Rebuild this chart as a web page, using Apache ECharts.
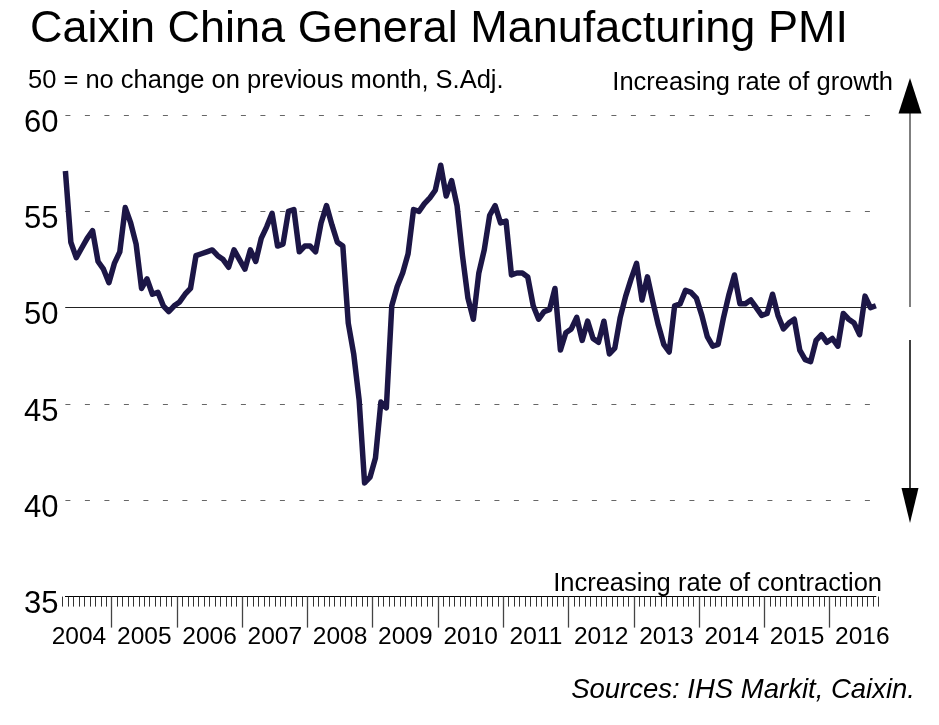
<!DOCTYPE html>
<html><head><meta charset="utf-8">
<script src="https://cdn.jsdelivr.net/npm/echarts@6/dist/echarts.min.js"></script>
<style>html,body{margin:0;padding:0;background:#fff}#c{width:939px;height:725px}</style>
</head><body><div id="c"></div>
<script>
const years = ['2004','2005','2006','2007','2008','2009','2010','2011','2012','2013','2014','2015','2016'];
const firstMonthOf2004 = 4; // series starts April 2004
const pmi2004 = [57.1, 53.4, 52.6, 53.1, 53.6, 54.0, 52.4, 52.0, 51.3];          // Apr-Dec
const pmi2005 = [52.3, 52.9, 55.2, 54.4, 53.3, 51.0, 51.5, 50.7, 50.8, 50.1, 49.8, 50.1];
const pmi2006 = [50.3, 50.7, 51.0, 52.7, 52.8, 52.9, 53.0, 52.7, 52.5, 52.1, 53.0, 52.5];
const pmi2007 = [52.0, 53.0, 52.4, 53.6, 54.2, 54.9, 53.2, 53.3, 55.0, 55.1, 52.9, 53.2];
const pmi2008 = [53.2, 52.9, 54.4, 55.3, 54.3, 53.4, 53.2, 49.2, 47.6, 45.2, 40.9, 41.2];
const pmi2009 = [42.2, 45.1, 44.8, 50.1, 51.1, 51.8, 52.8, 55.1, 55.0, 55.4, 55.7, 56.1];
const pmi2010 = [57.4, 55.8, 56.6, 55.3, 52.7, 50.5, 49.4, 51.8, 53.0, 54.8, 55.3, 54.4];
const pmi2011 = [54.5, 51.7, 51.8, 51.8, 51.6, 50.1, 49.4, 49.8, 49.9, 51.0, 47.8, 48.7];
const pmi2012 = [48.9, 49.5, 48.3, 49.3, 48.4, 48.2, 49.3, 47.6, 47.9, 49.5, 50.6, 51.5];
const pmi2013 = [52.3, 50.4, 51.6, 50.3, 49.1, 48.1, 47.7, 50.1, 50.2, 50.9, 50.8, 50.5];
const pmi2014 = [49.6, 48.5, 48.0, 48.1, 49.5, 50.7, 51.7, 50.2, 50.2, 50.4, 50.0, 49.6];
const pmi2015 = [49.7, 50.7, 49.6, 48.9, 49.2, 49.4, 47.8, 47.3, 47.2, 48.3, 48.6, 48.2];
const pmi2016 = [48.4, 48.0, 49.7, 49.4, 49.2, 48.6, 50.6, 50.0, 50.1];          // Jan-Sep
const yMin = 35, yMax = 60, yStep = 5, noChangeLevel = 50;

const FONT = '"Liberation Sans", Arial, sans-serif';
const yearData = [pmi2004,pmi2005,pmi2006,pmi2007,pmi2008,pmi2009,pmi2010,pmi2011,pmi2012,pmi2013,pmi2014,pmi2015,pmi2016];
const pad = n => (n < 10 ? '0' : '') + n;
const months = [], values = [];
yearData.forEach((arr, yi) => {
  const start = yi === 0 ? firstMonthOf2004 : 1;
  arr.forEach((v, j) => { months.push(years[yi] + '-' + pad(start + j)); values.push(v); });
});
const lastMonth = months[months.length - 1];
let ly = +lastMonth.slice(0, 4), lm = +lastMonth.slice(5) + 1;
if (lm > 12) { lm = 1; ly++; }
const boundaries = months.concat([ly + '-' + pad(lm)]);

function splitColors() {
  const cols = [];
  for (let v = yMin; v <= yMax; v += yStep) cols.push(v === noChangeLevel ? '#222' : 'rgba(0,0,0,0)');
  return cols;
}

const chart = echarts.init(document.getElementById('c'));
const gridTop = 115.1, gridBottom = 725 - 596.6;
const left0 = 65.4, right0 = 939 - 875.9;
const halfStep = (875.9 - 65.4) / (months.length - 1) / 2;

chart.setOption({
  animation: false,
  backgroundColor: '#fff',
  grid: [
    { left: left0, right: right0, top: gridTop, bottom: gridBottom },
    { left: left0 - halfStep, right: right0 - halfStep, top: gridTop, bottom: gridBottom }
  ],
  xAxis: [
    { gridIndex: 0, type: 'category', boundaryGap: false, data: months,
      axisLine: { show: true, lineStyle: { color: '#000', width: 1 } },
      axisTick: { show: false }, axisLabel: { show: false }, splitLine: { show: false } },
    { gridIndex: 1, type: 'category', boundaryGap: false, data: boundaries, position: 'bottom',
      axisLine: { show: false },
      axisTick: { show: true, interval: 0, length: 10, lineStyle: { color: '#333', width: 1 } },
      axisLabel: { show: true, interval: (i, v) => v.slice(5) === '07', formatter: v => v.slice(0, 4),
        fontSize: 24.5, fontFamily: FONT, color: '#000', margin: 28 },
      splitLine: { show: false } },
    { gridIndex: 1, type: 'category', boundaryGap: false, data: boundaries, position: 'bottom',
      axisLine: { show: false },
      axisTick: { show: true, interval: (i, v) => v.slice(5) === '01', length: 31, lineStyle: { color: '#444', width: 1.3 } },
      axisLabel: { show: false }, splitLine: { show: false } }
  ],
  yAxis: [
    { gridIndex: 0, type: 'value', min: yMin, max: yMax, interval: yStep,
      axisLine: { show: false }, axisTick: { show: false },
      axisLabel: { margin: 7, formatter: v => '{a|' + v + '}',
        rich: { a: { fontSize: 31, fontFamily: FONT, color: '#000', padding: [16, 0, 0, 0] } } },
      splitLine: { show: true, lineStyle: { color: '#666', width: 1, type: [5, 14.5] } } },
    { gridIndex: 0, type: 'value', min: yMin, max: yMax, interval: yStep, position: 'left',
      axisLine: { show: false }, axisTick: { show: false }, axisLabel: { show: false },
      splitLine: { show: true, lineStyle: { width: 1, type: 'solid', color: splitColors() } } },
    { gridIndex: 1, type: 'value', min: yMin, max: yMax, show: false }
  ],
  series: [{
    type: 'line', xAxisIndex: 0, yAxisIndex: 0, data: values,
    showSymbol: false, symbol: 'none', z: 5,
    lineStyle: { color: '#1c1646', width: 5.5, join: 'round' }
  }],
  graphic: [
    { type: 'text', x: 30, y: 29.5, style: { text: 'Caixin China General Manufacturing PMI', fontSize: 45, fontFamily: FONT, fill: '#000', align: 'left', verticalAlign: 'middle' } },
    { type: 'text', x: 28, y: 80.5, style: { text: '50 = no change on previous month, S.Adj.', fontSize: 25.5, fontFamily: FONT, fill: '#000', align: 'left', verticalAlign: 'middle' } },
    { type: 'text', x: 893, y: 83, style: { text: 'Increasing rate of growth', fontSize: 25.5, fontFamily: FONT, fill: '#000', align: 'right', verticalAlign: 'middle' } },
    { type: 'text', x: 882, y: 584, style: { text: 'Increasing rate of contraction', fontSize: 25.5, fontFamily: FONT, fill: '#000', align: 'right', verticalAlign: 'middle' } },
    { type: 'text', x: 915, y: 690, style: { text: 'Sources: IHS Markit, Caixin.', fontSize: 27.5, fontStyle: 'italic', fontFamily: FONT, fill: '#000', align: 'right', verticalAlign: 'middle' } },
    { type: 'line', shape: { x1: 910, y1: 307, x2: 910, y2: 112 }, style: { stroke: '#555', lineWidth: 1.5 } },
    { type: 'polygon', shape: { points: [[910, 78], [898.5, 113.5], [921.5, 113.5]] }, style: { fill: '#000' } },
    { type: 'line', shape: { x1: 910, y1: 340, x2: 910, y2: 490 }, style: { stroke: '#000', lineWidth: 1.5 } },
    { type: 'polygon', shape: { points: [[910, 523], [901.5, 488], [918.5, 488]] }, style: { fill: '#000' } }
  ]
});
</script>
</body></html>
